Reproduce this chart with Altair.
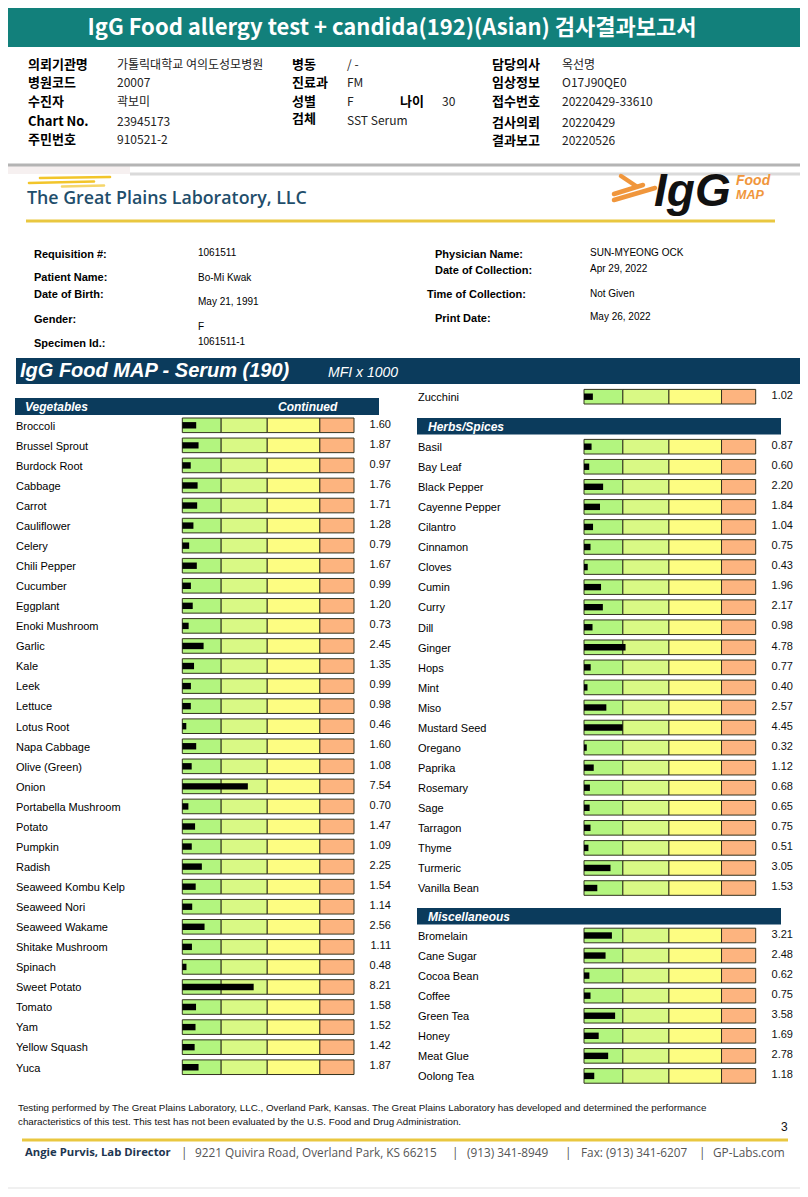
import altair as alt
import pandas as pd

# ---------------- data ----------------
TITLE = "IgG Food allergy test + candida(192)(Asian) 검사결과보고서"
KR_LABELS_1 = ["의뢰기관명", "병원코드", "수진자", "Chart No.", "주민번호"]
KR_VALUES_1 = ["가톨릭대학교 여의도성모병원", "20007", "곽보미", "23945173", "910521-2"]
KR_LABELS_2 = ["병동", "진료과", "성별", "검체"]
KR_VALUES_2 = ["/ -", "FM", "F", "SST Serum"]
AGE_LABEL, AGE_VALUE = "나이", "30"
KR_LABELS_3 = ["담당의사", "임상정보", "접수번호", "검사의뢰", "결과보고"]
KR_VALUES_3 = ["옥선명", "O17J90QE0", "20220429-33610", "20220429", "20220526"]

LAB_NAME = "The Great Plains Laboratory, LLC"
PT_LABELS_L = ["Requisition #:", "Patient Name:", "Date of Birth:", "Gender:", "Specimen Id.:"]
PT_VALUES_L = ["1061511", "Bo-Mi Kwak", "May 21, 1991", "F", "1061511-1"]
PT_LABELS_R = ["Physician Name:", "Date of Collection:", "Time of Collection:", "Print Date:"]
PT_VALUES_R = ["SUN-MYEONG OCK", "Apr 29, 2022", "Not Given", "May 26, 2022"]

PANEL_TITLE = "IgG Food MAP - Serum (190)"
PANEL_UNIT = "MFI x 1000"

VEG_NAMES = ["Broccoli", "Brussel Sprout", "Burdock Root", "Cabbage", "Carrot", "Cauliflower",
             "Celery", "Chili Pepper", "Cucumber", "Eggplant", "Enoki Mushroom", "Garlic", "Kale",
             "Leek", "Lettuce", "Lotus Root", "Napa Cabbage", "Olive (Green)", "Onion",
             "Portabella Mushroom", "Potato", "Pumpkin", "Radish", "Seaweed Kombu Kelp",
             "Seaweed Nori", "Seaweed Wakame", "Shitake Mushroom", "Spinach", "Sweet Potato",
             "Tomato", "Yam", "Yellow Squash", "Yuca"]
VEG_VALUES = [1.60, 1.87, 0.97, 1.76, 1.71, 1.28, 0.79, 1.67, 0.99, 1.20, 0.73, 2.45, 1.35,
              0.99, 0.98, 0.46, 1.60, 1.08, 7.54, 0.70, 1.47, 1.09, 2.25, 1.54, 1.14, 2.56,
              1.11, 0.48, 8.21, 1.58, 1.52, 1.42, 1.87]
CONT_NAMES = ["Zucchini"]
CONT_VALUES = [1.02]
HERB_NAMES = ["Basil", "Bay Leaf", "Black Pepper", "Cayenne Pepper", "Cilantro", "Cinnamon",
              "Cloves", "Cumin", "Curry", "Dill", "Ginger", "Hops", "Mint", "Miso",
              "Mustard Seed", "Oregano", "Paprika", "Rosemary", "Sage", "Tarragon", "Thyme",
              "Turmeric", "Vanilla Bean"]
HERB_VALUES = [0.87, 0.60, 2.20, 1.84, 1.04, 0.75, 0.43, 1.96, 2.17, 0.98, 4.78, 0.77, 0.40,
               2.57, 4.45, 0.32, 1.12, 0.68, 0.65, 0.75, 0.51, 3.05, 1.53]
MISC_NAMES = ["Bromelain", "Cane Sugar", "Cocoa Bean", "Coffee", "Green Tea", "Honey",
              "Meat Glue", "Oolong Tea"]
MISC_VALUES = [3.21, 2.48, 0.62, 0.75, 3.58, 1.69, 2.78, 1.18]

SECTION_VEG, SECTION_CONT = "Vegetables", "Continued"
SECTION_HERB, SECTION_MISC = "Herbs/Spices", "Miscellaneous"

# reference ranges of the coloured scale (MFI x 1000)
ZONE_EDGES = [0, 4.47, 9.77, 15.82, 19.75]
ZONE_COLORS = ["#b3f57f", "#d9f985", "#fdfd82", "#fdb47f"]

FOOT_1 = ("Testing performed by The Great Plains Laboratory, LLC., Overland Park, Kansas.  "
          "The Great Plains Laboratory has developed and determined the performance")
FOOT_2 = ("characteristics of this test.  This test has not been evaluated by the U.S.  "
          "Food and Drug Administration.")
PAGE_NO = "3"
DIRECTOR = "Angie Purvis, Lab Director"
CONTACT = ["|", "9221 Quivira Road, Overland Park, KS 66215", "|", "(913) 341-8949", "|",
           "Fax: (913) 341-6207", "|", "GP-Labs.com"]

# ---------------- styling / layout ----------------
ARIAL = "Liberation Sans, Arial, Helvetica, sans-serif"
KR = "Noto Sans CJK KR, Noto Sans, sans-serif"
OPEN = "Open Sans, Noto Sans, sans-serif"
TEAL = "#12807b"
NAVY = "#0b3b5c"
W, H = 792, 1181
PX = alt.Scale(domain=[8, 800], range=[0, 792], nice=False, zero=False)
PY = alt.Scale(domain=[8, 1189], range=[0, 1181], nice=False, zero=False)
LX = alt.Scale(domain=[ZONE_EDGES[0], ZONE_EDGES[-1]], range=[182.3 - 8, 354 - 8], nice=False, zero=False)
RX = alt.Scale(domain=[ZONE_EDGES[0], ZONE_EDGES[-1]], range=[584 - 8, 755.7 - 8], nice=False, zero=False)


def text_layer(xs, ys, texts, size, color="#000000", weight="normal", style="normal",
               font=ARIAL, align="left"):
    df = pd.DataFrame({"x": xs, "y": ys, "t": texts})
    return alt.Chart(df).mark_text(
        align=align, baseline="middle", fontSize=size, fontWeight=weight,
        fontStyle=style, font=font, color=color
    ).encode(x=alt.X("x:Q", scale=PX, axis=None),
             y=alt.Y("y:Q", scale=PY, axis=None),
             text="t:N")


def rect_layer(rows, **mark):
    df = pd.DataFrame(rows, columns=["x0", "x1", "y0", "y1", "c"])
    return alt.Chart(df).mark_rect(**mark).encode(
        x=alt.X("x0:Q", scale=PX, axis=None), x2="x1:Q",
        y=alt.Y("y0:Q", scale=PY, axis=None), y2="y1:Q",
        color=alt.Color("c:N", scale=None))


def rule_layer(rows, width, cap="butt"):
    df = pd.DataFrame(rows, columns=["x0", "x1", "y0", "y1", "c"])
    return alt.Chart(df).mark_rule(strokeWidth=width, strokeCap=cap).encode(
        x=alt.X("x0:Q", scale=PX, axis=None), x2="x1:Q",
        y=alt.Y("y0:Q", scale=PY, axis=None), y2="y1:Q",
        color=alt.Color("c:N", scale=None))


layers = []

# background bands
layers.append(rect_layer([
    (0, 808, 7, 47, TEAL),
    (0, 130, 166, 174, "#f6f0f0"),
    (16, 808, 358, 384, NAVY),
    (15, 379, 398, 415, NAVY),
    (417, 781, 418, 434.5, NAVY),
    (417, 781, 908, 924.5, NAVY),
    (0, 808, 1187, 1197, "#f0f0f0"),
]))
layers.append(rule_layer([
    (0, 808, 165, 165, "#b4b4b4"),
    (130, 808, 174, 174, "#dadada"),
    (26, 775, 221, 221, "#e9c740"),
    (22, 788, 1140, 1140, "#e9c740"),
], 3))
# logo strokes
layers.append(rule_layer([
    (40, 110, 178, 177, "#f2c52a"),
    (29, 94, 183, 181.5, "#f2c52a"),
    (62, 104, 186.5, 185.5, "#f5d66a"),
], 2.6, cap="round"))
layers.append(rule_layer([
    (614, 655, 200, 188, "#f0963c"),
    (614, 643, 194, 185, "#f0963c"),
    (621, 636, 176, 186, "#f0963c"),
], 4.5, cap="round"))

# title and Korean header table
layers.append(text_layer([392], [28], [TITLE], 22, color="white", weight="bold", font=KR, align="center"))
layers.append(text_layer([28] * 5, [65, 83, 102, 122, 140], KR_LABELS_1, 13, weight="bold", font=KR))
layers.append(text_layer([117] * 5, [65, 83, 102, 122, 140], KR_VALUES_1, 12, color="#222", font=KR))
layers.append(text_layer([292] * 4 + [400], [65, 83, 102, 119, 102], KR_LABELS_2 + [AGE_LABEL], 13, weight="bold", font=KR))
layers.append(text_layer([347] * 4 + [442], [65, 83, 102, 121, 102], KR_VALUES_2 + [AGE_VALUE], 12, color="#222", font=KR))
layers.append(text_layer([492] * 5, [65, 83, 102, 123, 141], KR_LABELS_3, 13, weight="bold", font=KR))
layers.append(text_layer([562] * 5, [65, 83, 102, 123, 141], KR_VALUES_3, 12, color="#222", font=KR))

# lab header
layers.append(text_layer([27], [199], [LAB_NAME], 17.8, color="#1f4e6b", weight=600, font=OPEN))
layers.append(text_layer([654], [192], ["IgG"], 46, color="#111", weight="bold", style="italic"))
layers.append(text_layer([736], [181], ["Food"], 14, color="#f0963c", weight="bold", style="italic"))
layers.append(text_layer([736], [195], ["MAP"], 12.5, color="#f0963c", weight="bold", style="italic"))

# patient info
layers.append(text_layer([34] * 5, [255, 278, 295, 320, 344], PT_LABELS_L, 11, weight="bold"))
layers.append(text_layer([198] * 5, [253, 278, 302, 327, 342], PT_VALUES_L, 10))
layers.append(text_layer([435, 435, 427, 435], [255, 271, 295, 319], PT_LABELS_R, 11, weight="bold"))
layers.append(text_layer([590] * 4, [253, 269, 294, 317], PT_VALUES_R, 10))

# panel headers
layers.append(text_layer([20], [371], [PANEL_TITLE], 20, color="white", weight="bold", style="italic"))
layers.append(text_layer([328], [373], [PANEL_UNIT], 14, color="white", style="italic"))
layers.append(text_layer([25, 278, 428, 428], [406.5, 406.5, 426.5, 916.5],
                         [SECTION_VEG, SECTION_CONT, SECTION_HERB, SECTION_MISC], 12,
                         color="white", weight="bold", style="italic"))

# rows
PITCH = 20.06
left_rows = pd.DataFrame({"name": VEG_NAMES, "value": VEG_VALUES,
                          "yc": [425.3 + i * PITCH for i in range(len(VEG_NAMES))]})
right_rows = pd.concat([
    pd.DataFrame({"name": CONT_NAMES, "value": CONT_VALUES, "yc": [396.7]}),
    pd.DataFrame({"name": HERB_NAMES, "value": HERB_VALUES,
                  "yc": [446.7 + i * PITCH for i in range(len(HERB_NAMES))]}),
    pd.DataFrame({"name": MISC_NAMES, "value": MISC_VALUES,
                  "yc": [935.5 + i * PITCH for i in range(len(MISC_NAMES))]}),
], ignore_index=True)


def panel(rows, xscale, label_x, value_x):
    zrows = []
    for _, r in rows.iterrows():
        for k in range(len(ZONE_COLORS)):
            zrows.append({"lo": ZONE_EDGES[k], "hi": ZONE_EDGES[k + 1],
                          "y0": r.yc - 7.3, "y1": r.yc + 7.3, "c": ZONE_COLORS[k]})
    zdf = pd.DataFrame(zrows)
    bdf = rows.assign(zero=0.0, y0=rows.yc - 3.2, y1=rows.yc + 3.2)
    zones = alt.Chart(zdf).mark_rect(stroke="#33331f", strokeWidth=1).encode(
        x=alt.X("lo:Q", scale=xscale, axis=None), x2="hi:Q",
        y=alt.Y("y0:Q", scale=PY, axis=None), y2="y1:Q",
        color=alt.Color("c:N", scale=None))
    bars = alt.Chart(bdf).mark_rect(color="#000000").encode(
        x=alt.X("zero:Q", scale=xscale, axis=None), x2="value:Q",
        y=alt.Y("y0:Q", scale=PY, axis=None), y2="y1:Q")
    names = text_layer([label_x] * len(rows), list(rows.yc + 1.3), list(rows.name), 11)
    vals = text_layer([value_x] * len(rows), list(rows.yc - 0.8),
                      ["%.2f" % v for v in rows.value], 11, color="#111", align="right")
    return [zones, bars, names, vals]


layers += panel(left_rows, LX, 16, 391)
layers += panel(right_rows, RX, 418, 793)

# footer
layers.append(text_layer([18, 18], [1108, 1122], [FOOT_1, FOOT_2], 9.8, color="#111"))
layers.append(text_layer([781], [1127], [PAGE_NO], 12, color="#111"))
layers.append(text_layer([25], [1152.5], [DIRECTOR], 11.3, color="#1d3550", weight="bold", font=OPEN))
layers.append(text_layer([181, 195, 452, 467, 565, 581, 699, 713], [1152.5] * 8, CONTACT, 11.8,
                         color="#555", font=OPEN))

chart = alt.layer(*layers).resolve_scale(x="independent").properties(
    width=W, height=H, autosize=alt.AutoSizeParams(type="none"), padding=0,
    background="white"
).configure_view(stroke=None)

chart.save("out.html", embed_options={"renderer": "svg", "actions": False})
